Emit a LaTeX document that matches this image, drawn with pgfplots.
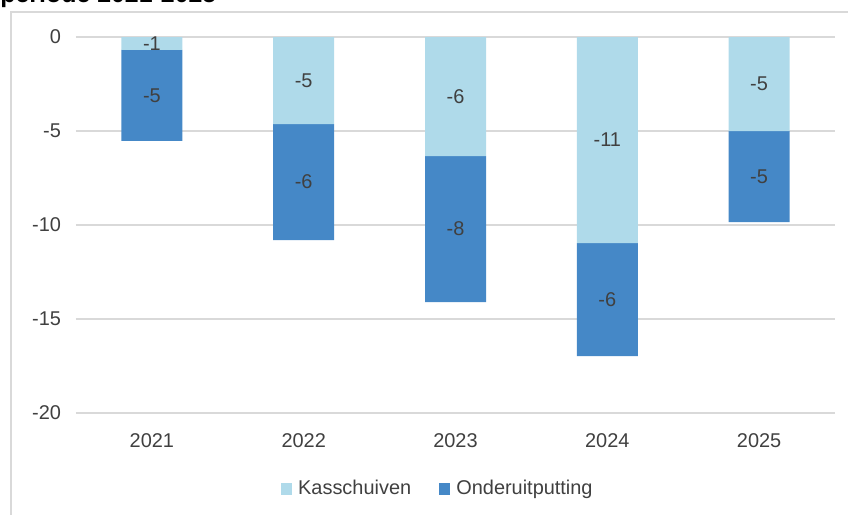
\documentclass[border=0pt]{standalone}
\usepackage{fontspec}
\setmainfont{Liberation Sans}
\usepackage{pgfplots}
\pgfplotsset{compat=1.18}
\usepackage{pgfplotstable}
\definecolor{kas}{HTML}{AFDAEA}
\definecolor{ond}{HTML}{4588C7}
\definecolor{txt}{HTML}{404040}
\definecolor{gridc}{HTML}{D9D9D9}

% values in billions
\pgfplotstableread{
x k o
0 -0.69 -4.84
1 -4.63 -6.17
2 -6.33 -7.77
3 -10.96 -6.01
4 -5.00 -4.84
}\budget
% label heights: middle of each segment
\pgfplotstablecreatecol[expr={\thisrow{k}/2}]{km}\budget
\pgfplotstablecreatecol[expr={\thisrow{k}+\thisrow{o}/2}]{om}\budget

\pgfplotsset{
    frame/.style={
        at={(38bp,-206.5bp)}, anchor=south west,
        scale only axis, width=379.5bp, height=188bp,
        xmin=-0.5, xmax=4.5, ymin=-20, ymax=0,
        /pgf/number format/assume math mode=true,
    },
}

\begin{document}
\begin{tikzpicture}
\begin{axis}[
    frame,
    ybar stacked, bar width=30.5bp,
    xtick={0,...,4}, xticklabels={2021,2022,2023,2024,2025},
    ytick={-20,-15,...,0},
    ymajorgrids, major grid style={gridc, line width=0.7bp},
    axis line style={draw=none}, major tick length=0pt,
    tick label style={font=\fontsize{10}{12}\selectfont, text=txt},
    yticklabel style={xshift=-4bp},
    xticklabel style={yshift=-7bp},
    legend style={at={(0.478,-0.202)}, anchor=center, draw=none,
        font=\fontsize{10}{12}\selectfont, text=txt, legend columns=2,
        /tikz/every even column/.append style={column sep=12bp},
        /tikz/every odd column/.append style={column sep=1bp}},
    legend image code/.code={\fill[#1] (0bp,-2.8bp) rectangle (5.6bp,2.8bp);},
]
\addplot[fill=kas, draw=none] table[x=x, y=k] {\budget};
\addplot[fill=ond, draw=none] table[x=x, y=o] {\budget};
\legend{Kasschuiven, Onderuitputting}
\end{axis}
\begin{axis}[
    frame, hide axis,
    nodes near coords={\pgfmathprintnumber[fixed,precision=0]{\pgfplotspointmeta}},
    every node near coord/.append style={anchor=center,
        font=\fontsize{10}{12}\selectfont, text=txt},
]
\addplot[draw=none, mark=none, point meta=\thisrow{k}] table[x=x, y=km] {\budget};
\addplot[draw=none, mark=none, point meta=\thisrow{o}] table[x=x, y=om] {\budget};
\end{axis}
\draw[gridc, line width=0.8bp] (5.5bp,-300bp) -- (5.5bp,-6bp) -- (440bp,-6bp);
\node[anchor=base west, inner sep=0pt, text=black,
    font=\bfseries\fontsize{12.5}{14}\selectfont] at (0bp,-1.2bp) {periode 2021-2025};
\pgfresetboundingbox
\useasboundingbox (0bp,0bp) rectangle (424bp,-257.5bp);
\end{tikzpicture}
\end{document}
